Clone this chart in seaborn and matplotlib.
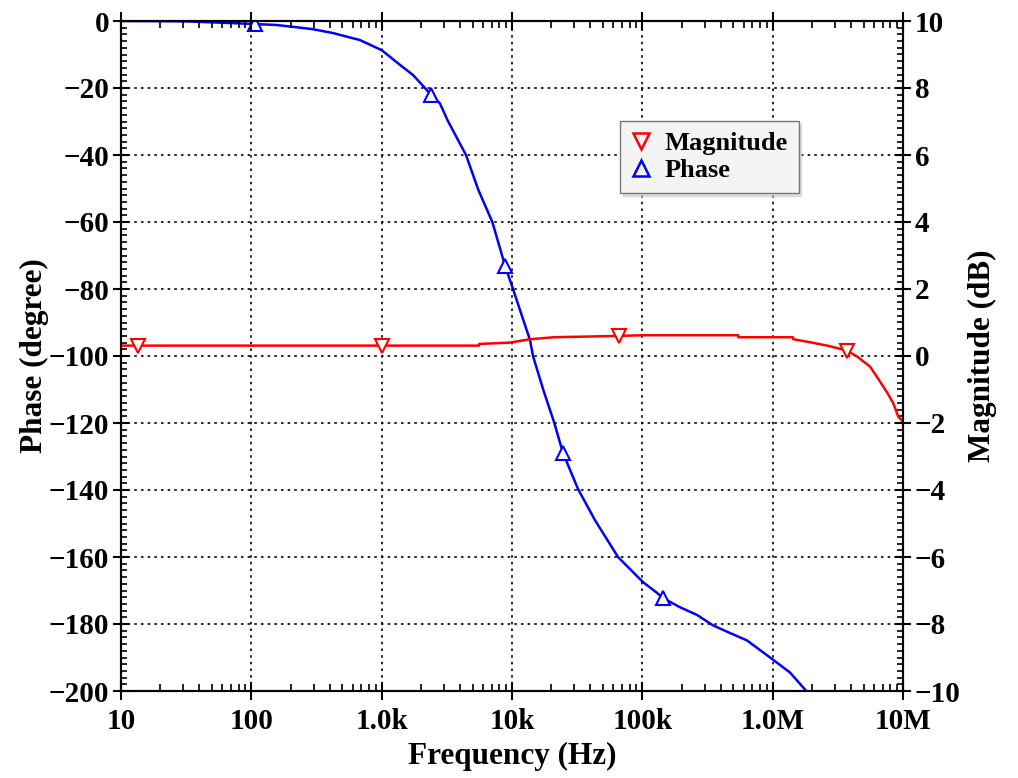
import numpy as np
import matplotlib
matplotlib.use("Agg")
import matplotlib.pyplot as plt
from matplotlib.lines import Line2D
from matplotlib.ticker import FixedLocator, MultipleLocator, LogLocator, NullFormatter
import seaborn as sns

# ---- data ----
phase_freq = [10, 31, 107, 157, 292, 424, 682, 1000, 1383, 1738, 2150, 2390,
              2800, 3200, 4436, 5515, 7065, 8839, 10180, 12150, 13740, 14490,
              17380, 21120, 24630, 32100, 43300, 65070, 101200, 129600, 143200,
              194600, 263000, 348000, 471000, 635000, 955000, 1360000, 1840000]
phase_deg = [0, -0.1, -0.9, -1.2, -2.4, -3.6, -5.7, -8.7, -13.1, -16.1, -20, -22,
             -24.6, -29.6, -40, -50.4, -60, -73, -80, -89, -95.2, -100,
             -110.1, -120, -129, -139.7, -149, -160, -167.5, -170.7, -172.2,
             -175, -177.3, -180.4, -182.7, -184.9, -190, -194.5, -200.3]
phase_marker_idx = [2, 11, 17, 24, 30]

mag_freq = [10, 13.5, 1000, 5590, 5600, 9660, 13740, 21000, 66200, 101200,
            542000, 545000, 1430000, 1440000, 2000000, 2700000, 3720000,
            4500000, 5600000, 6400000, 7500000, 8400000, 9200000, 10000000]
mag_db = [0.31, 0.31, 0.31, 0.31, 0.36, 0.40, 0.50, 0.56, 0.60, 0.62,
          0.62, 0.56, 0.56, 0.50, 0.40, 0.30, 0.16, -0.03, -0.32, -0.66,
          -1.07, -1.40, -1.81, -1.96]
mag_marker_idx = [1, 2, 8, 16]

x_ticks = [10, 100, 1e3, 1e4, 1e5, 1e6, 1e7]
x_ticklabels = ["10", "100", "1.0k", "10k", "100k", "1.0M", "10M"]
phase_ticks = list(range(0, -201, -20))
mag_ticks = list(range(10, -11, -2))

# ---- style ----
sns.set_style("ticks")
plt.rcParams['font.family'] = ['Liberation Serif', 'DejaVu Serif']
plt.rcParams['font.weight'] = 'bold'
plt.rcParams['axes.labelweight'] = 'bold'
for k in ['text.color', 'axes.labelcolor', 'xtick.color', 'ytick.color',
          'xtick.labelcolor', 'ytick.labelcolor', 'axes.edgecolor']:
    plt.rcParams[k] = 'black'

fig = plt.figure(figsize=(10.18, 7.78), dpi=100)
ax = fig.add_axes([121/1018, 1-691/778, 782/1018, 670/778])
ax2 = ax.twinx()

blue = "#0000ff"
red = "#ff0000"

sns.lineplot(x=phase_freq, y=phase_deg, ax=ax, color=blue, linewidth=1.8,
             marker="^", markevery=phase_marker_idx, markersize=9.5,
             markerfacecolor="white", markeredgecolor=blue, markeredgewidth=1.5,
             estimator=None, sort=False, legend=False)
sns.lineplot(x=mag_freq, y=mag_db, ax=ax2, color=red, linewidth=1.8,
             marker="v", markevery=mag_marker_idx, markersize=9.5,
             markerfacecolor="white", markeredgecolor=red, markeredgewidth=1.5,
             estimator=None, sort=False, legend=False)

for a in (ax, ax2):
    a.set_xscale("log")
    a.set_xlim(10, 1e7)
ax.set_ylim(-200, 0)
ax2.set_ylim(-10, 10)

ax.xaxis.set_major_locator(FixedLocator(x_ticks))
ax.set_xticklabels(x_ticklabels)
ax.xaxis.set_minor_locator(LogLocator(base=10, subs=np.arange(2, 10), numticks=20))
ax.xaxis.set_minor_formatter(NullFormatter())
ax.set_yticks(phase_ticks)
ax.yaxis.set_minor_locator(MultipleLocator(2))
ax2.set_yticks(mag_ticks)
ax2.yaxis.set_minor_locator(MultipleLocator(0.2))

ax.grid(True, which="major", color="black", linestyle=(0, (1.5, 2.5)), linewidth=1.2)
ax.set_axisbelow(False)

fs_tick = 21
ax.tick_params(axis="x", which="major", direction="inout", length=13, width=1.5,
               top=True, labelsize=fs_tick, pad=6, colors="black")
ax.tick_params(axis="x", which="minor", direction="in", length=5, width=1.2, top=True)
ax.tick_params(axis="y", which="major", direction="inout", length=11, width=1.5,
               labelsize=fs_tick, pad=3, colors="black")
ax.tick_params(axis="y", which="minor", direction="in", length=4, width=1.2)
ax2.tick_params(axis="y", which="major", direction="inout", length=11, width=1.5,
                labelsize=fs_tick, pad=3, colors="black")
ax2.tick_params(axis="y", which="minor", direction="in", length=4, width=1.2)

for a in (ax, ax2):
    for s in a.spines.values():
        s.set_linewidth(1.5)
        s.set_color("black")
    for lab in a.get_xticklabels() + a.get_yticklabels():
        lab.set_fontweight("bold")
        lab.set_color("black")

ax.set_xlabel("Frequency (Hz)", fontsize=22.5, fontweight="bold", labelpad=5, color="black")
ax.set_ylabel("Phase (degree)", fontsize=22.5, fontweight="bold", labelpad=0, color="black")
ax2.set_ylabel("Magnitude (dB)", fontsize=22.5, fontweight="bold", labelpad=5, color="black")

handles = [
    Line2D([], [], linestyle="none", marker="v", markersize=11, markerfacecolor="none",
           markeredgecolor=red, markeredgewidth=1.8, label="Magnitude"),
    Line2D([], [], linestyle="none", marker="^", markersize=11, markerfacecolor="none",
           markeredgecolor=blue, markeredgewidth=1.8, label="Phase"),
]
leg = ax2.legend(handles=handles, loc="upper left", bbox_to_anchor=(0.638, 0.851),
                 prop={"family": "Liberation Serif", "weight": "bold", "size": 19},
                 frameon=True, fancybox=False, shadow={"color": "#cccccc", "alpha": 0.6},
                 framealpha=1, edgecolor="#777777", facecolor="#f4f4f4",
                 handletextpad=0.5, borderpad=0.4, labelspacing=0.15,
                 handlelength=0.8, borderaxespad=0)
leg.get_frame().set_linewidth(1.0)
for t in leg.get_texts():
    t.set_color("black")

fig.savefig("out.png", dpi=100)
